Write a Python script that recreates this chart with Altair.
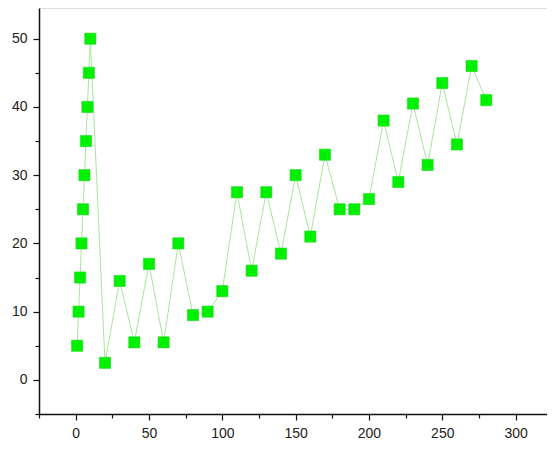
import altair as alt
import pandas as pd

x_vals = [1, 2, 3, 4, 5, 6, 7, 8, 9, 10,
          20, 30, 40, 50, 60, 70, 80, 90, 100, 110,
          120, 130, 140, 150, 160, 170, 180, 190, 200, 210,
          220, 230, 240, 250, 260, 270, 280]
y_vals = [5, 10, 15, 20, 25, 30, 35, 40, 45, 50,
          2.5, 14.5, 5.5, 17, 5.5, 20, 9.5, 10, 13, 27.5,
          16, 27.5, 18.5, 30, 21, 33, 25, 25, 26.5, 38,
          29, 40.5, 31.5, 43.5, 34.5, 46, 41]

x_ticks = list(range(-25, 301, 25))
y_ticks = list(range(-5, 51, 5))

df = pd.DataFrame({"x": x_vals, "y": y_vals})

xs = alt.Scale(domain=[-25, 321.4], nice=False, zero=False)
ys = alt.Scale(domain=[-5, 54.5], nice=False, zero=False)

axis_common = dict(
    grid=False, domainColor="#111111", domainWidth=1.5,
    tickColor="#111111", tickWidth=1.2,
    labelFont="Liberation Sans", labelFontSize=14, labelColor="#222222",
)

x_axis = alt.Axis(
    values=x_ticks,
    title=None,
    labelExpr="datum.value % 50 === 0 ? datum.label : ''",
    tickSize={"condition": {"test": "datum.value % 50 === 0", "value": 6}, "value": 4},
    labelPadding=6,
    **axis_common,
)

y_axis = alt.Axis(
    values=y_ticks,
    title=None,
    labelExpr="(datum.value % 10 === 0 && datum.value >= 0) ? datum.label : ''",
    tickSize={"condition": {"test": "datum.value % 10 === 0", "value": 6}, "value": 4},
    labelPadding=6,
    **axis_common,
)

base = alt.Chart(df).encode(
    x=alt.X("x:Q", scale=xs, axis=x_axis),
    y=alt.Y("y:Q", scale=ys, axis=y_axis),
)

line = base.mark_line(color="#a9e59c", strokeWidth=1)
pts = base.mark_square(size=125, filled=True, color="#00f000", opacity=1,
                       stroke="#20d820", strokeWidth=0.6)

chart = alt.layer(line, pts).properties(
    width=508, height=406,
    autosize=alt.AutoSizeParams(type="none"),
    padding={"left": 31, "top": 0, "right": 0, "bottom": 28},
).configure_view(stroke=None).configure(background="white")

chart.save("out.html", embed_options={"renderer": "svg", "actions": False})
